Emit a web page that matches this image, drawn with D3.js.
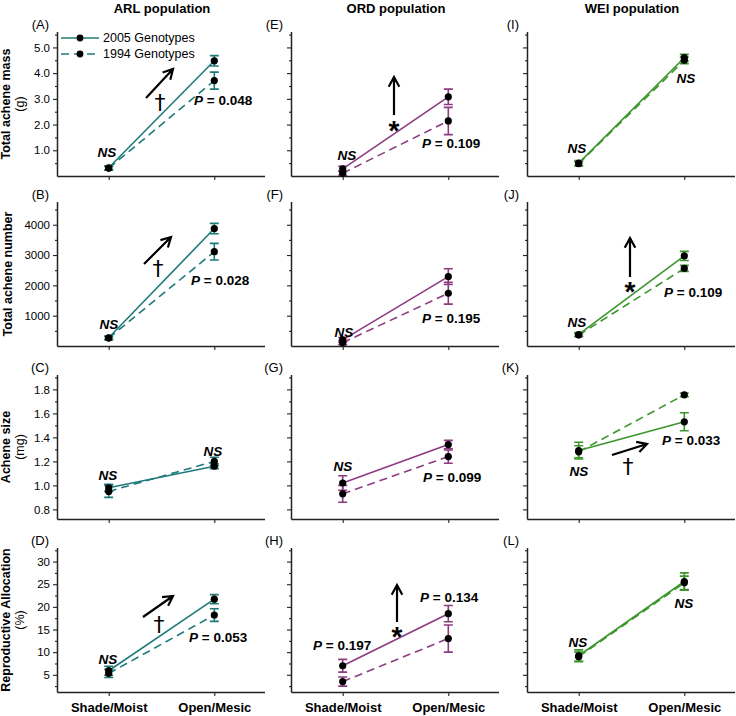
<!DOCTYPE html>
<html><head><meta charset="utf-8">
<script src="https://cdn.jsdelivr.net/npm/d3@7/dist/d3.min.js"></script>
<style>body{margin:0;background:#fff} svg{display:block} text{font-family:"Liberation Sans",Arial,sans-serif;fill:#000}</style>
</head><body><svg id="c" width="736" height="716"></svg>
<script>
const categories = ["Shade/Moist","Open/Mesic"];
const populations = ["ARL population","ORD population","WEI population"];
const seriesNames = ["2005 Genotypes","1994 Genotypes"];
const traitTitles = [["Total achene mass","(g)"],["Total achene number"],["Achene size","(mg)"],["Reproductive Allocation","(%)"]];
const panelLetters = [["(A)","(E)","(I)"],["(B)","(F)","(J)"],["(C)","(G)","(K)"],["(D)","(H)","(L)"]];

// [ARL, ORD, WEI] x [Shade/Moist, Open/Mesic]
const mass2005 = [[0.32,4.48],[0.28,3.08],[0.50,4.60]];
const mass2005Err = [[0.08,0.20],[0.10,0.30],[0.10,0.13]];
const mass1994 = [[0.30,3.71],[0.11,2.14],[0.48,4.50]];
const mass1994Err = [[0.07,0.33],[0.08,0.53],[0.08,0.13]];

const num2005 = [[270,3875],[200,2290],[380,2970]];
const num2005Err = [[60,170],[80,260],[60,150]];
const num1994 = [[260,3110],[110,1740],[360,2560]];
const num1994Err = [[50,275],[70,360],[50,100]];

const size2005 = [[0.98,1.16],[1.02,1.34],[1.29,1.53]];
const size2005Err = [[0.03,0.02],[0.06,0.035],[0.07,0.075]];
const size1994 = [[0.95,1.20],[0.93,1.24],[1.28,1.755]];
const size1994Err = [[0.05,0.035],[0.07,0.055],[0.05,0.015]];

const ra2005 = [[5.9,21.7],[7.0,18.5],[9.2,25.6]];
const ra2005Err = [[1.0,1.0],[1.4,1.8],[1.3,1.9]];
const ra1994 = [[5.3,18.2],[3.5,13.0],[9.0,25.3]];
const ra1994Err = [[0.9,1.4],[1.0,3.0],[1.0,1.5]];

const yDomains = [[0,5.6],[0,4750],[0.72,1.92],[1.2,33]];
const majorTicks = [[1,2,3,4,5],[1000,2000,3000,4000],[0.8,1.0,1.2,1.4,1.6,1.8],[5,10,15,20,25,30]];
const minorTicks = [[0.5,1.5,2.5,3.5,4.5,5.5],[500,1500,2500,3500,4500],[0.9,1.1,1.3,1.5,1.7,1.9],[2.5,7.5,12.5,17.5,22.5,27.5,32.5]];
const tickFormats = [".1f","d",".1f","d"];

const traitData = [
  [mass2005,mass2005Err,mass1994,mass1994Err],
  [num2005,num2005Err,num1994,num1994Err],
  [size2005,size2005Err,size1994,size1994Err],
  [ra2005,ra2005Err,ra1994,ra1994Err]
];

// annotations (panel-relative pixel positions)
const annotations = [
  {r:0,c:0,t:"ns",s:"NS",x:49,y:120},{r:0,c:0,t:"arrow",x1:88,y1:66,x2:115,y2:37},{r:0,c:0,t:"dag",x:102,y:70},{r:0,c:0,t:"p",s:"0.048",x:136,y:68},
  {r:1,c:0,t:"ns",s:"NS",x:51,y:122},{r:1,c:0,t:"arrow",x1:86,y1:62,x2:113,y2:35},{r:1,c:0,t:"dag",x:100,y:66},{r:1,c:0,t:"p",s:"0.028",x:133,y:78},
  {r:2,c:0,t:"ns",s:"NS",x:50,y:100},{r:2,c:0,t:"ns",s:"NS",x:155,y:76},
  {r:3,c:0,t:"ns",s:"NS",x:50,y:111},{r:3,c:0,t:"arrow",x1:85,y1:69,x2:115,y2:48},{r:3,c:0,t:"dag",x:101,y:76},{r:3,c:0,t:"p",s:"0.053",x:131,y:89},
  {r:0,c:1,t:"ns",s:"NS",x:55,y:123},{r:0,c:1,t:"arrow",x1:102,y1:83,x2:102,y2:45},{r:0,c:1,t:"ast",x:102,y:91},{r:0,c:1,t:"p",s:"0.109",x:130,y:111},
  {r:1,c:1,t:"ns",s:"NS",x:52,y:130},{r:1,c:1,t:"p",s:"0.195",x:130,y:116},
  {r:2,c:1,t:"ns",s:"NS",x:51,y:91},{r:2,c:1,t:"p",s:"0.099",x:131,y:102},
  {r:3,c:1,t:"p",s:"0.197",x:21,y:97},{r:3,c:1,t:"p",s:"0.134",x:128,y:49},{r:3,c:1,t:"arrow",x1:105,y1:74,x2:105,y2:37},{r:3,c:1,t:"ast",x:105,y:81},
  {r:0,c:2,t:"ns",s:"NS",x:49,y:116},{r:0,c:2,t:"ns",s:"NS",x:158,y:46},
  {r:1,c:2,t:"ns",s:"NS",x:49,y:120},{r:1,c:2,t:"arrow",x1:102,y1:75,x2:102,y2:36},{r:1,c:2,t:"ast",x:102,y:82},{r:1,c:2,t:"p",s:"0.109",x:136,y:90},
  {r:2,c:2,t:"ns",s:"NS",x:51,y:96},{r:2,c:2,t:"p",s:"0.033",x:134,y:65},{r:2,c:2,t:"arrow",x1:84,y1:80,x2:119,y2:69},{r:2,c:2,t:"dag",x:100,y:91},
  {r:3,c:2,t:"ns",s:"NS",x:50,y:94},{r:3,c:2,t:"ns",s:"NS",x:156,y:55}
];

const colors = ["#1f7a7a","#8c3b80","#3c962c"];
const colX = [58,292,528], rowY = [32,202,375,548];
const W = 207, H = 144;

const svg = d3.select("#c");

populations.forEach((p,c)=>{
  svg.append("text").attr("x", colX[c]+104).attr("y", 13).attr("text-anchor","middle")
    .style("font-size","13px").style("font-weight","bold").text(p);
});

traitTitles.forEach((lines,r)=>{
  const yc = rowY[r] + H/2;
  const xs = lines.length===1 ? [8] : [6,20];
  lines.forEach((s,i)=>{
    svg.append("text").attr("transform",`translate(${xs[i]},${yc}) rotate(-90)`)
      .attr("text-anchor","middle").attr("dy","0.35em")
      .style("font-size","12.5px").style("font-weight", i===0?"bold":"normal").text(s);
  });
});

for(let r=0;r<4;r++){
  for(let c=0;c<3;c++){
    const x0 = colX[c], y0 = rowY[r];
    const g = svg.append("g");
    const x = d3.scalePoint().domain(categories).range([x0, x0+W]).padding(0.48);
    const y = d3.scaleLinear().domain(yDomains[r]).range([y0+H, y0]);
    const col = colors[c];
    const yAxis = d3.axisLeft(y).tickValues(majorTicks[r]).tickSize(5).tickPadding(3)
      .tickFormat(c===0 ? d3.format(tickFormats[r]) : ()=>"");
    const ya = g.append("g").attr("transform",`translate(${x0},0)`).call(yAxis);
    ya.select(".domain").attr("d",`M-0.5,${y0}V${y0+H+0.5}`);
    const ym = g.append("g").attr("transform",`translate(${x0},0)`).call(d3.axisLeft(y).tickValues(minorTicks[r]).tickSize(3).tickFormat(()=>""));
    ym.select(".domain").remove();
    const xAxis = d3.axisBottom(x).tickSize(4).tickFormat(r===3 ? (d=>d) : ()=>"");
    const xa = g.append("g").attr("transform",`translate(0,${y0+H})`).call(xAxis);
    xa.select(".domain").attr("d",`M${x0-0.5},0.5H${x0+W}`);
    g.selectAll(".domain").attr("stroke","#222").attr("stroke-width",1.5);
    g.selectAll(".tick line").attr("stroke","#222").attr("stroke-width",1.1);
    ya.selectAll(".tick text").style("font-size","11.5px").attr("fill","#000");
    xa.selectAll(".tick text").style("font-size","13px").style("font-weight","bold")
      .attr("y",11).attr("dy","0.71em").attr("fill","#000");

    svg.append("text").attr("x", x0-9).attr("y", y0-3).attr("text-anchor","end")
      .style("font-size","13px").text(panelLetters[r][c]);

    const [m05,e05,m94,e94] = traitData[r];
    const series = [
      {vals:m05[c], errs:e05[c], dash:null},
      {vals:m94[c], errs:e94[c], dash:"8,5"}
    ];
    const line = d3.line().x((d,i)=>x(categories[i])).y(d=>y(d));
    series.slice().reverse().forEach(s=>{
      g.append("path").attr("d", line(s.vals)).attr("fill","none").attr("stroke",col)
        .attr("stroke-width",1.6).attr("stroke-dasharray", s.dash);
    });
    series.forEach(s=>{
      s.vals.forEach((v,i)=>{
        const cx = x(categories[i]);
        const lo = y(v - s.errs[i]), hi = y(v + s.errs[i]);
        g.append("path").attr("d",`M${cx},${lo}V${hi}M${cx-4.5},${lo}H${cx+4.5}M${cx-4.5},${hi}H${cx+4.5}`)
          .attr("stroke",col).attr("stroke-width",1.6).attr("fill","none");
      });
    });
    series.forEach(s=>{
      s.vals.forEach((v,i)=>{
        g.append("circle").attr("cx",x(categories[i])).attr("cy",y(v)).attr("r",3.6).attr("fill","#000");
      });
    });
  }
}

// legend in panel A
{
  const lx = colX[0], ly = rowY[0];
  [0,1].forEach(i=>{
    const yy = ly + 6 + i*16;
    svg.append("line").attr("x1",lx+3).attr("x2",lx+41).attr("y1",yy).attr("y2",yy)
      .attr("stroke",colors[0]).attr("stroke-width",1.6).attr("stroke-dasharray", i===1?"8,5":null);
    svg.append("circle").attr("cx",lx+22).attr("cy",yy).attr("r",3.4).attr("fill","#000");
    svg.append("text").attr("x",lx+45).attr("y",yy).attr("dy","0.35em").style("font-size","12.5px").text(seriesNames[i]);
  });
}

annotations.forEach(a=>{
  const x0 = colX[a.c], y0 = rowY[a.r];
  if(a.t==="ns"){
    svg.append("text").attr("x",x0+a.x).attr("y",y0+a.y).attr("dy","0.35em").attr("text-anchor","middle")
      .style("font-size","13.5px").style("font-weight","bold").style("font-style","italic").text(a.s);
  } else if(a.t==="p"){
    const t = svg.append("text").attr("x",x0+a.x).attr("y",y0+a.y).attr("dy","0.35em")
      .style("font-size","13.5px").style("font-weight","bold");
    t.append("tspan").style("font-style","italic").text("P");
    t.append("tspan").text(" = "+a.s);
  } else if(a.t==="dag"){
    svg.append("text").attr("x",x0+a.x).attr("y",y0+a.y).attr("dy","0.38em").attr("text-anchor","middle")
      .style("font-family","'DejaVu Sans',sans-serif").style("font-size","22px").style("fill","#000").text("\u2020");
  } else if(a.t==="ast"){
    svg.append("text").attr("x",x0+a.x).attr("y",y0+a.y).attr("dy","0.62em").attr("text-anchor","middle")
      .style("font-size","28px").style("font-weight","bold").text("*");
  } else if(a.t==="arrow"){
    const X1=x0+a.x1, Y1=y0+a.y1, X2=x0+a.x2, Y2=y0+a.y2;
    const ang = Math.atan2(Y2-Y1, X2-X1), L = 11, sp = 0.5;
    const p1 = [X2 - L*Math.cos(ang-sp), Y2 - L*Math.sin(ang-sp)];
    const p2 = [X2 - L*Math.cos(ang+sp), Y2 - L*Math.sin(ang+sp)];
    svg.append("path").attr("d",`M${X1},${Y1}L${X2},${Y2}M${p1[0]},${p1[1]}L${X2},${Y2}L${p2[0]},${p2[1]}`)
      .attr("stroke","#000").attr("stroke-width",2.2).attr("fill","none").attr("stroke-linejoin","miter");
  }
});
</script></body></html>
